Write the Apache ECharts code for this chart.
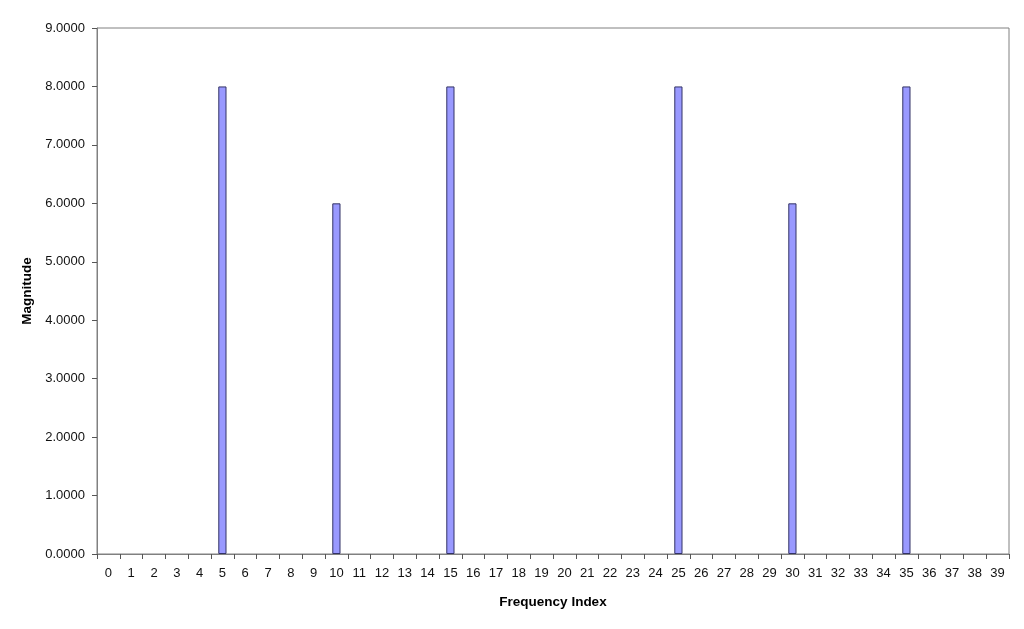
<!DOCTYPE html>
<html><head><meta charset="utf-8">
<script src="https://cdn.jsdelivr.net/npm/echarts@6/dist/echarts.min.js"></script>
<style>html,body{margin:0;padding:0;background:#fff}#c{width:1024px;height:629px}</style>
</head><body><div id="c"></div>
<script>
const categories = Array.from({length:40}, (_, i) => String(i));
const magnitude = [0,0,0,0,0,8,0,0,0,0,6,0,0,0,0,8,0,0,0,0,0,0,0,0,0,8,0,0,0,0,6,0,0,0,0,8,0,0,0,0];
const yTicks = [0,1,2,3,4,5,6,7,8,9];

const F = 'Liberation Sans, Arial, sans-serif';
const chart = echarts.init(document.getElementById('c'), null, {renderer:'canvas'});
chart.setOption({
  animation:false,
  backgroundColor:'#fff',
  textStyle:{fontFamily:F},
  grid:{left:97, right:15, top:28, bottom:75, show:true, borderColor:'#808080', borderWidth:1, backgroundColor:'#fff'},
  xAxis:{
    type:'category', data:categories,
    name:'Frequency Index', nameLocation:'middle', nameGap:41,
    nameTextStyle:{fontWeight:'bold', fontSize:13.5, color:'#000', fontFamily:F},
    axisLine:{lineStyle:{color:'#808080', width:1}},
    axisTick:{show:true, alignWithLabel:false, length:5, lineStyle:{color:'#555'}},
    axisLabel:{interval:0, color:'#111', fontSize:13, margin:13, fontFamily:F},
    splitLine:{show:false}
  },
  yAxis:{
    type:'value', min:yTicks[0], max:yTicks[yTicks.length-1], interval:1,
    name:'Magnitude', nameLocation:'middle', nameGap:61, nameRotate:90,
    nameTextStyle:{fontWeight:'bold', fontSize:13.5, color:'#000', fontFamily:F},
    axisLine:{show:true, lineStyle:{color:'#808080', width:1}},
    axisTick:{show:true, length:5, lineStyle:{color:'#555'}},
    axisLabel:{color:'#111', fontSize:13, margin:12, formatter:v=>v.toFixed(4), fontFamily:F},
    splitLine:{show:false}
  },
  series:[{
    type:'bar',
    data:magnitude.map(v => v === 0 ? {value:v, itemStyle:{borderWidth:0}} : v),
    barWidth:'36%',
    itemStyle:{color:'#9999FF', borderColor:'#333366', borderWidth:1}
  }]
});
</script></body></html>
